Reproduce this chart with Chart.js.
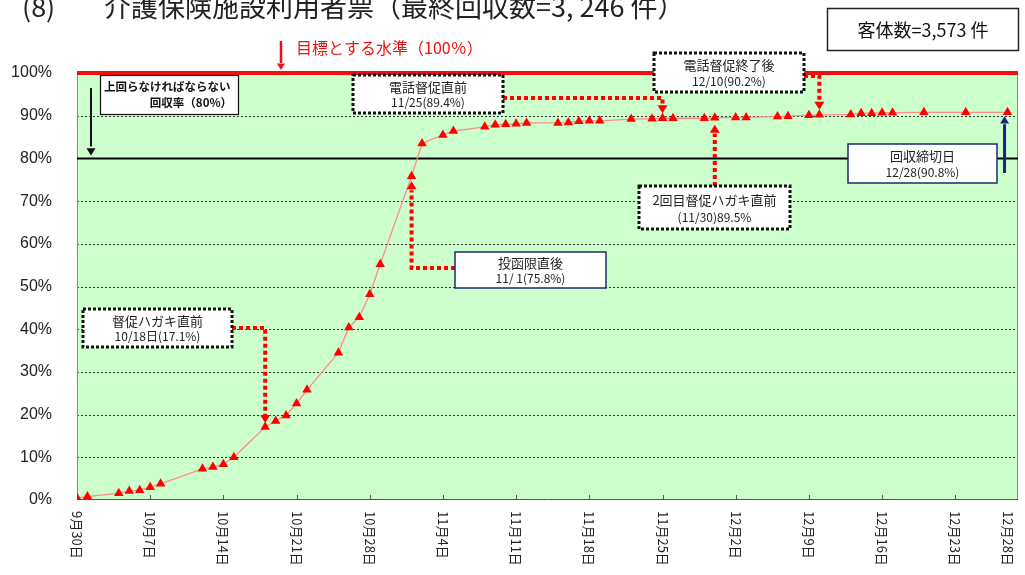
<!DOCTYPE html>
<html><head><meta charset="utf-8">
<script src="https://cdn.jsdelivr.net/npm/chart.js@4.4.1/dist/chart.umd.min.js"></script>
<style>html,body{margin:0;padding:0;background:#fff;}#wrap{width:1025px;height:575px;}</style>
</head><body><div id="wrap"><canvas id="c" width="1025" height="575"></canvas></div>
<script>
// Days counted from 9/30
const dayOffsets = [0,1,4,5,6,7,8,12,13,14,15,18,19,20,21,22,25,26,27,28,29,32,33,35,36,39,40,41,42,43,46,47,48,49,50,53,55,56,57,60,61,63,64,67,68,70,71,74,75,76,77,78,81,85,89];
const rates = [0.5,0.8,1.6,2.1,2.3,3.0,3.8,7.3,7.7,8.4,10.0,17.1,18.5,19.8,22.6,25.8,34.5,40.4,42.8,48.2,55.2,75.8,83.5,85.5,86.4,87.4,87.9,88.0,88.1,88.3,88.3,88.4,88.7,88.8,88.8,89.2,89.3,89.4,89.4,89.4,89.5,89.6,89.6,89.8,89.9,90.1,90.2,90.3,90.6,90.6,90.7,90.7,90.8,90.8,90.8];
const tickDays = [0,7,14,21,28,35,42,49,56,63,70,77,84,89];
const tickLabels = ["9月30日","10月7日","10月14日","10月21日","10月28日","11月4日","11月11日","11月18日","11月25日","12月2日","12月9日","12月16日","12月23日","12月28日"];
const yTicks = [0,10,20,30,40,50,60,70,80,90,100];
const titleText = "介護保険施設利用者票（最終回収数=3, 246 件）";
const countText = "客体数=3,573 件";
const targetText = "目標とする水準（100％）";
const targetRate = 100, requiredRate = 80;
// annotation callouts: [day, rate, line1, line2]
const notes = [
  [18, 17.1, "督促ハガキ直前", "10/18日(17.1%)"],
  [32, 75.8, "投函限直後", "11/ 1(75.8%)"],
  [56, 89.4, "電話督促直前", "11/25(89.4%)"],
  [61, 89.5, "2回目督促ハガキ直前", "(11/30)89.5%"],
  [71, 90.2, "電話督促終了後", "12/10(90.2%)"],
  [89, 90.8, "回収締切日", "12/28(90.8%)"]
];

const CJK = '"Noto Sans CJK JP", "Liberation Sans", sans-serif';

function dotted(ctx, pts, color, w) {
  ctx.save(); ctx.strokeStyle = color; ctx.lineWidth = w; ctx.setLineDash([4,3]);
  ctx.beginPath(); ctx.moveTo(pts[0][0], pts[0][1]);
  for (let i = 1; i < pts.length; i++) ctx.lineTo(pts[i][0], pts[i][1]);
  ctx.stroke(); ctx.restore();
}
function head(ctx, x, y, dir, color, s) {
  s = s || 6;
  ctx.save(); ctx.fillStyle = color; ctx.beginPath();
  if (dir === 'down') { ctx.moveTo(x, y); ctx.lineTo(x - s, y - s*1.6); ctx.lineTo(x + s, y - s*1.6); }
  else { ctx.moveTo(x, y); ctx.lineTo(x - s, y + s*1.6); ctx.lineTo(x + s, y + s*1.6); }
  ctx.closePath(); ctx.fill(); ctx.restore();
}
function box(ctx, x1, y1, x2, y2, style, l1, l2, fs) {
  ctx.save();
  ctx.fillStyle = '#fff'; ctx.fillRect(x1, y1, x2 - x1, y2 - y1);
  if (style === 'dot') { ctx.strokeStyle = '#111'; ctx.lineWidth = 3; ctx.setLineDash([3,2]); }
  else if (style === 'navy') { ctx.strokeStyle = '#1f2a6e'; ctx.lineWidth = 1.5; }
  else { ctx.strokeStyle = '#111'; ctx.lineWidth = 1.2; }
  ctx.strokeRect(x1, y1, x2 - x1, y2 - y1);
  ctx.setLineDash([]);
  ctx.fillStyle = '#222'; ctx.textAlign = 'center'; ctx.textBaseline = 'middle';
  const cx = (x1 + x2) / 2, h = y2 - y1;
  ctx.font = (fs || 13) + 'px ' + CJK;
  ctx.fillText(l1, cx, y1 + h * 0.32);
  ctx.font = '12px ' + CJK;
  ctx.fillText(l2, cx, y1 + h * 0.73);
  ctx.restore();
}

const decor = {
  id: 'decor',
  beforeDraw(chart) {
    const {ctx, chartArea: a} = chart;
    ctx.save(); ctx.fillStyle = '#ccffcc';
    ctx.fillRect(a.left, a.top, a.right - a.left, a.bottom - a.top);
    ctx.restore();
  },
  beforeDatasetsDraw(chart) {
    const {ctx, chartArea: a, scales: {x, y}} = chart;
    ctx.save();
    yTicks.forEach(v => {
      if (v === 0 || v === targetRate || v === requiredRate) return;
      const py = Math.round(y.getPixelForValue(v)) + 0.5;
      ctx.strokeStyle = '#333'; ctx.lineWidth = 1; ctx.setLineDash([2,2]);
      ctx.beginPath(); ctx.moveTo(a.left, py); ctx.lineTo(a.right, py); ctx.stroke();
    });
    ctx.setLineDash([]);
    // frame
    ctx.strokeStyle = '#888'; ctx.lineWidth = 1;
    ctx.beginPath(); ctx.moveTo(a.left + 0.5, a.top); ctx.lineTo(a.left + 0.5, a.bottom);
    ctx.moveTo(a.right - 0.5, a.top); ctx.lineTo(a.right - 0.5, a.bottom); ctx.stroke();
    ctx.strokeStyle = '#555';
    ctx.beginPath(); ctx.moveTo(a.left, a.bottom - 0.5); ctx.lineTo(a.right, a.bottom - 0.5); ctx.stroke();
    // x tick marks (inside)
    tickDays.forEach(d => {
      if (d === tickDays[tickDays.length - 1]) return;
      const px = Math.round(x.getPixelForValue(d)) + 0.5;
      ctx.beginPath(); ctx.moveTo(px, a.bottom); ctx.lineTo(px, a.bottom - 5); ctx.stroke();
    });
    // 80% line
    const p80 = y.getPixelForValue(requiredRate);
    ctx.strokeStyle = '#000'; ctx.lineWidth = 2;
    ctx.beginPath(); ctx.moveTo(a.left, p80); ctx.lineTo(a.right, p80); ctx.stroke();
    // 100% line
    const p100 = y.getPixelForValue(targetRate);
    ctx.strokeStyle = '#ee1111'; ctx.lineWidth = 4;
    ctx.beginPath(); ctx.moveTo(a.left, p100); ctx.lineTo(a.right, p100); ctx.stroke();
    ctx.restore();
  },
  afterDraw(chart) {
    const {ctx, chartArea: a, scales: {x, y}} = chart;
    ctx.save();
    // title
    ctx.fillStyle = '#222'; ctx.textBaseline = 'middle'; ctx.textAlign = 'left';
    ctx.font = '27px ' + CJK;
    ctx.fillText('(8)', 22, 7);
    ctx.fillText(titleText, 104, 7);
    // count box
    ctx.fillStyle = '#fff'; ctx.fillRect(827, 8, 192, 43);
    ctx.strokeStyle = '#222'; ctx.lineWidth = 1.5; ctx.strokeRect(827.5, 8.5, 191, 42);
    ctx.fillStyle = '#111'; ctx.textAlign = 'center'; ctx.font = '18px ' + CJK;
    ctx.fillText(countText, 923, 30);
    // x labels, rotated clockwise
    ctx.font = '13px ' + CJK; ctx.fillStyle = '#222';
    tickDays.forEach((d, i) => {
      const px = x.getPixelForValue(d);
      ctx.save(); ctx.translate(px, a.bottom + 11); ctx.rotate(Math.PI / 2);
      ctx.textAlign = 'left'; ctx.textBaseline = 'middle';
      ctx.fillText(tickLabels[i], 0, 0); ctx.restore();
    });
    // target label
    const p100 = y.getPixelForValue(targetRate);
    ctx.strokeStyle = '#ee1111'; ctx.lineWidth = 2.5;
    ctx.beginPath(); ctx.moveTo(281, 41); ctx.lineTo(281, p100 - 10); ctx.stroke();
    head(ctx, 281, p100 - 3, 'down', '#ee1111', 4);
    ctx.fillStyle = '#ee1111'; ctx.textAlign = 'left'; ctx.font = '16px ' + CJK;
    ctx.fillText(targetText, 296, 48);
    // 80% box
    const p80 = y.getPixelForValue(requiredRate);
    ctx.fillStyle = '#fff'; ctx.fillRect(100, 75, 139, 40);
    ctx.strokeStyle = '#111'; ctx.lineWidth = 1.2; ctx.strokeRect(100.5, 75.5, 138, 39);
    ctx.fillStyle = '#111'; ctx.font = 'bold 11.5px ' + CJK; ctx.textAlign = 'left';
    ctx.fillText('上回らなければならない', 104, 87);
    ctx.textAlign = 'right'; ctx.fillText('回収率（80%）', 232, 103);
    ctx.strokeStyle = '#111'; ctx.lineWidth = 2;
    ctx.beginPath(); ctx.moveTo(91, 88); ctx.lineTo(91, p80 - 12); ctx.stroke();
    head(ctx, 91, p80 - 3, 'down', '#111', 4.5);

    const R = '#ff0000';
    // 10/18
    let n = notes[0], nx = x.getPixelForValue(n[0]), ny = y.getPixelForValue(n[1]);
    dotted(ctx, [[232, 328], [nx, 328], [nx, ny - 12]], R, 4);
    head(ctx, nx, ny - 4, 'down', R, 5);
    box(ctx, 83, 309, 232, 347, 'dot', n[2], n[3]);
    // 11/1
    n = notes[1]; nx = x.getPixelForValue(n[0]); ny = y.getPixelForValue(n[1]);
    dotted(ctx, [[455, 268], [nx, 268], [nx, ny + 14]], R, 4);
    head(ctx, nx, ny + 5, 'up', R, 5);
    box(ctx, 455, 252, 606, 288, 'navy', n[2], n[3]);
    // 11/25
    n = notes[2]; nx = x.getPixelForValue(n[0]); ny = y.getPixelForValue(n[1]);
    dotted(ctx, [[503, 98], [nx, 98], [nx, ny - 12]], R, 4);
    head(ctx, nx, ny - 5, 'down', R, 5);
    box(ctx, 353, 75, 503, 113, 'dot', n[2], n[3]);
    // 11/30
    n = notes[3]; nx = x.getPixelForValue(n[0]); ny = y.getPixelForValue(n[1]);
    dotted(ctx, [[nx, 186], [nx, ny + 16]], R, 4);
    head(ctx, nx, ny + 7, 'up', R, 5);
    box(ctx, 639, 186, 790, 229, 'dot', n[2], n[3]);
    // 12/10
    n = notes[4]; nx = x.getPixelForValue(n[0]); ny = y.getPixelForValue(n[1]);
    dotted(ctx, [[804, 76], [nx, 76], [nx, ny - 12]], R, 4);
    head(ctx, nx, ny - 5, 'down', R, 5);
    box(ctx, 654, 53, 804, 92, 'dot', n[2], n[3]);
    // 12/28
    n = notes[5]; nx = x.getPixelForValue(n[0]) - 3; ny = y.getPixelForValue(n[1]);
    ctx.strokeStyle = '#1a237e'; ctx.lineWidth = 3;
    ctx.beginPath(); ctx.moveTo(nx, 173); ctx.lineTo(nx, ny + 12); ctx.stroke();
    head(ctx, nx, ny + 4, 'up', '#1a237e', 4.5);
    box(ctx, 848, 144, 997, 183, 'navy', n[2], n[3]);
    ctx.restore();
  }
};

new Chart(document.getElementById('c'), {
  type: 'line',
  data: {
    datasets: [{
      data: dayOffsets.map((d, i) => ({x: d, y: rates[i]})),
      borderColor: '#ff8c8c', borderWidth: 1.3,
      pointStyle: 'triangle', pointRadius: 5.5,
      pointBackgroundColor: '#ff0000', pointBorderColor: '#ff0000', pointBorderWidth: 0,
      tension: 0
    }]
  },
  options: {
    responsive: false, animation: false,
    layout: {padding: {top: 73, right: 7, left: 0, bottom: 0}},
    plugins: {legend: {display: false}, tooltip: {enabled: false}},
    scales: {
      x: {
        type: 'linear', min: 0, max: 90,
        grid: {display: false}, border: {display: false},
        ticks: {display: false},
        afterFit: s => { s.height = 75; }
      },
      y: {
        min: 0, max: 100,
        afterBuildTicks: s => { s.ticks = yTicks.map(v => ({value: v})); },
        grid: {display: false}, border: {display: false},
        ticks: {
          callback: v => v + '%', padding: 17, color: '#222',
          font: {size: 16, family: '"Liberation Sans", Arial, sans-serif'}
        },
        afterFit: s => { s.width = 77; }
      }
    }
  },
  plugins: [decor]
});
</script>
</body></html>
